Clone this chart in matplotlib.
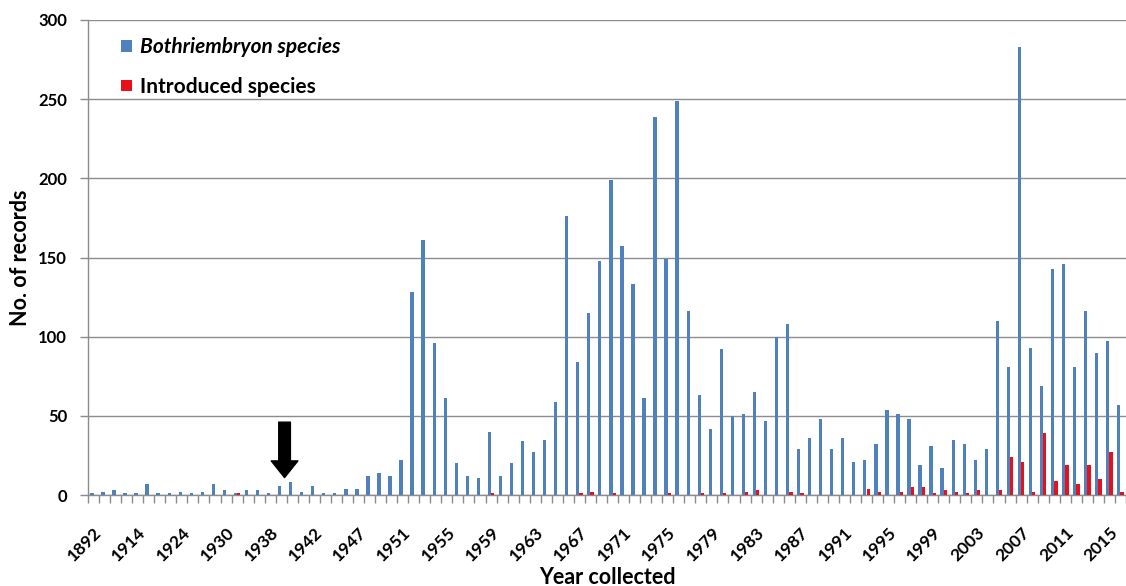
import matplotlib
matplotlib.use("Agg")
import matplotlib.pyplot as plt
import numpy as np

years = [1892, 1900, 1905, 1910, 1914, 1916, 1920, 1922, 1924, 1926, 1927, 1928,
         1930, 1932, 1934, 1936, 1938, 1939, 1940, 1941, 1942, 1943, 1944, 1946] + list(range(1947, 2017))

bothriembryon = [1, 2, 3, 1, 1, 7, 1, 1, 2, 1, 2, 7,
                 3, 1, 3, 3, 1, 6, 8, 2, 6, 1, 1, 4,
                 4, 12, 14, 12, 22, 128, 161, 96, 61, 20, 12, 11,
                 40, 12, 20, 34, 27, 35, 59, 176, 84, 115, 148, 199,
                 157, 133, 61, 239, 149, 249, 116, 63, 42, 92, 50, 51,
                 65, 47, 100, 108, 29, 36, 48, 29, 36, 21, 22, 32,
                 54, 51, 48, 19, 31, 17, 35, 32, 22, 29, 110, 81,
                 283, 93, 69, 143, 146, 81, 116, 90, 97, 57]

introduced = [0, 0, 0, 0, 0, 0, 0, 0, 0, 0, 0, 0,
              0, 1, 0, 0, 0, 0, 0, 0, 0, 0, 0, 0,
              0, 0, 0, 0, 0, 0, 0, 0, 0, 0, 0, 0,
              1, 0, 0, 0, 0, 0, 0, 0, 1, 2, 0, 1,
              0, 0, 0, 0, 1, 0, 0, 1, 0, 1, 0, 2,
              3, 0, 0, 2, 1, 0, 0, 0, 0, 0, 4, 2,
              0, 2, 5, 5, 1, 3, 2, 1, 3, 0, 3, 24,
              21, 2, 39, 9, 19, 7, 19, 10, 27, 2]

series_names = ["Bothriembryon species", "Introduced species"]
arrow_year = 1939

BLUE = "#4F81BD"
RED = "#E8101A"
GRID = "#8C8C8C"
FONT = ["Lato", "DejaVu Sans"]

plt.rcParams["font.family"] = FONT

fig = plt.figure(figsize=(11.26, 5.86), dpi=100)
ax = fig.add_axes([88 / 1126, 91 / 586, 1038 / 1126, 475 / 586])

x = np.arange(len(years))
w = 0.3
ax.bar(x - w / 2, bothriembryon, width=w, color=BLUE, label=series_names[0], zorder=3)
ax.bar(x + w / 2, introduced, width=w, color=RED, label=series_names[1], zorder=3)

ax.set_xlim(-0.5, len(years) - 0.5)
ax.set_ylim(0, 300)
ax.set_yticks(np.arange(0, 301, 50))
ax.yaxis.grid(True, color=GRID, linewidth=1.0, zorder=0)
ax.set_axisbelow(True)

# x tick marks at category boundaries, labels every 4th category
ax.set_xticks(np.arange(-0.5, len(years), 1.0), minor=True)
ax.set_xticks(x[::4])
ax.set_xticklabels([str(y) for y in years[::4]], rotation=45, ha="right",
                   rotation_mode="anchor", fontsize=12.5, fontweight="bold")
ax.tick_params(axis="x", which="major", length=0, pad=21)
ax.tick_params(axis="x", which="minor", length=6, color=GRID, width=1)
ax.tick_params(axis="y", length=6, color=GRID, width=1, labelsize=12, pad=9)
for lab in ax.get_yticklabels():
    lab.set_fontweight("bold")

for s in ["top", "right"]:
    ax.spines[s].set_visible(False)
for s in ["left", "bottom"]:
    ax.spines[s].set_color(GRID)
    ax.spines[s].set_linewidth(1)

ax.set_ylabel("No. of records", fontsize=15.5, fontweight="bold", labelpad=5)
ax.set_xlabel("Year collected", fontsize=15.5, fontweight="bold", labelpad=2)

leg = ax.legend(loc="upper left", bbox_to_anchor=(0.032, 0.964), frameon=False,
                fontsize=15, handlelength=0.5, handleheight=0.5, handletextpad=0.4,
                labelspacing=0.95, borderaxespad=0, borderpad=0)
texts = leg.get_texts()
texts[0].set_fontweight("bold")
texts[0].set_fontstyle("italic")
texts[1].set_fontweight("bold")

ai = years.index(arrow_year) + 0.3
ax.annotate("", xy=(ai, 11), xytext=(ai, 46),
            arrowprops=dict(arrowstyle="simple,head_width=1.6,head_length=1.0,tail_width=0.7",
                            mutation_scale=12, color="black", shrinkA=0, shrinkB=0),
            zorder=5)

fig.savefig("out.png", dpi=100)
